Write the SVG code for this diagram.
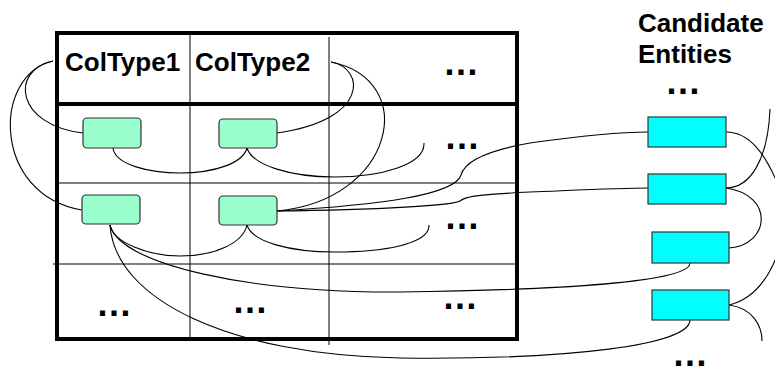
<svg xmlns="http://www.w3.org/2000/svg" width="775" height="366" viewBox="0 0 775 366">
<style>
.hdr{font-family:"Liberation Sans",Arial,sans-serif;font-weight:bold;font-size:26px;fill:#000}
.dots{font-family:"Liberation Sans",Arial,sans-serif;font-weight:bold;font-size:36px;fill:#000}
.thick{stroke:#000;stroke-width:4;fill:none}
.thin{stroke:#000;stroke-width:1;fill:none}
.cell{fill:#99ffcc;stroke:#333;stroke-width:1.2}
.ent{fill:#00ffff;stroke:#333;stroke-width:1.2}
.edge{stroke:#000;stroke-width:1.1;fill:none}
</style>
<rect width="775" height="366" fill="#fff"/>
<g id="table">
  <line class="thin" x1="190" y1="33" x2="190" y2="339"/>
  <line class="thin" x1="329" y1="37" x2="329" y2="345"/>
  <line class="thin" x1="57" y1="183" x2="517" y2="183"/>
  <line class="thin" x1="53" y1="264" x2="517" y2="264"/>
  <rect class="thick" x="57" y="33" width="460" height="306"/>
  <line class="thick" x1="57" y1="104" x2="517" y2="104"/>
  <text class="hdr" x="65" y="71">ColType1</text>
  <text class="hdr" x="195" y="71">ColType2</text>
  <text class="dots" x="443" y="75">…</text>
  <text class="dots" x="444" y="149">…</text>
  <text class="dots" x="444" y="229">…</text>
  <text class="dots" x="96" y="316">…</text>
  <text class="dots" x="232" y="313">…</text>
  <text class="dots" x="442" y="309">…</text>
</g>
<g id="candidates-label">
  <text class="hdr" x="638" y="32">Candidate</text>
  <text class="hdr" x="638" y="63">Entities</text>
  <text class="dots" x="665" y="94">…</text>
  <text class="dots" x="672" y="366">…</text>
</g>
<g id="connectors">
  <path class="edge" d="M53,61 C10,70 15,125 83,133"/>
  <path class="edge" d="M53,61 C-8,75 -8,195 82,210"/>
  <path class="edge" d="M331,62 C365,68 370,120 277,133"/>
  <path class="edge" d="M331,62 C420,80 395,200 277,211"/>
  <path class="edge" d="M113,148 C115,165 150,173 180,173 C215,173 243,163 247,148"/>
  <path class="edge" d="M247,148 C252,165 290,177 335,177 C380,177 425,165 424,143"/>
  <path class="edge" d="M110,225 C113,243 150,256 180,256 C215,256 243,243 247,225"/>
  <path class="edge" d="M247,225 C252,242 290,252 335,252 C380,252 430,245 429,225"/>
  <path class="edge" d="M110,225 C120,265 250,293 400,292 C560,290 690,282 690,263"/>
  <path class="edge" d="M110,225 C115,300 230,355 400,358 C570,360 690,345 690,320"/>
  <path class="edge" d="M277,211 C380,205 455,195 461,175 C465,160 490,150 530,143 C580,136 620,132 648,132"/>
  <path class="edge" d="M277,211 C380,210 455,205 460,201 C465,197 470,195 530,192 C580,190 620,188 648,188"/>
  <path class="edge" d="M726,132 C750,132 765,155 776,180"/>
  <path class="edge" d="M770,109 C768,160 750,188 726,188"/>
  <path class="edge" d="M726,188 C775,195 770,245 729,248"/>
  <path class="edge" d="M729,305 C750,300 765,285 776,258"/>
  <path class="edge" d="M729,305 C752,308 762,325 762,341"/>
</g>
<g id="cell-r1c1"><rect class="cell" x="83" y="118" width="58" height="30" rx="4"/></g>
<g id="cell-r1c2"><rect class="cell" x="219" y="119" width="58" height="29" rx="4"/></g>
<g id="cell-r2c1"><rect class="cell" x="82" y="195" width="58" height="29" rx="4"/></g>
<g id="cell-r2c2"><rect class="cell" x="219" y="196" width="58" height="29" rx="4"/></g>
<g id="entity-1"><rect class="ent" x="648" y="117" width="78" height="30"/></g>
<g id="entity-2"><rect class="ent" x="648" y="174" width="78" height="30"/></g>
<g id="entity-3"><rect class="ent" x="652" y="232" width="77" height="31"/></g>
<g id="entity-4"><rect class="ent" x="652" y="290" width="77" height="30"/></g>
</svg>
